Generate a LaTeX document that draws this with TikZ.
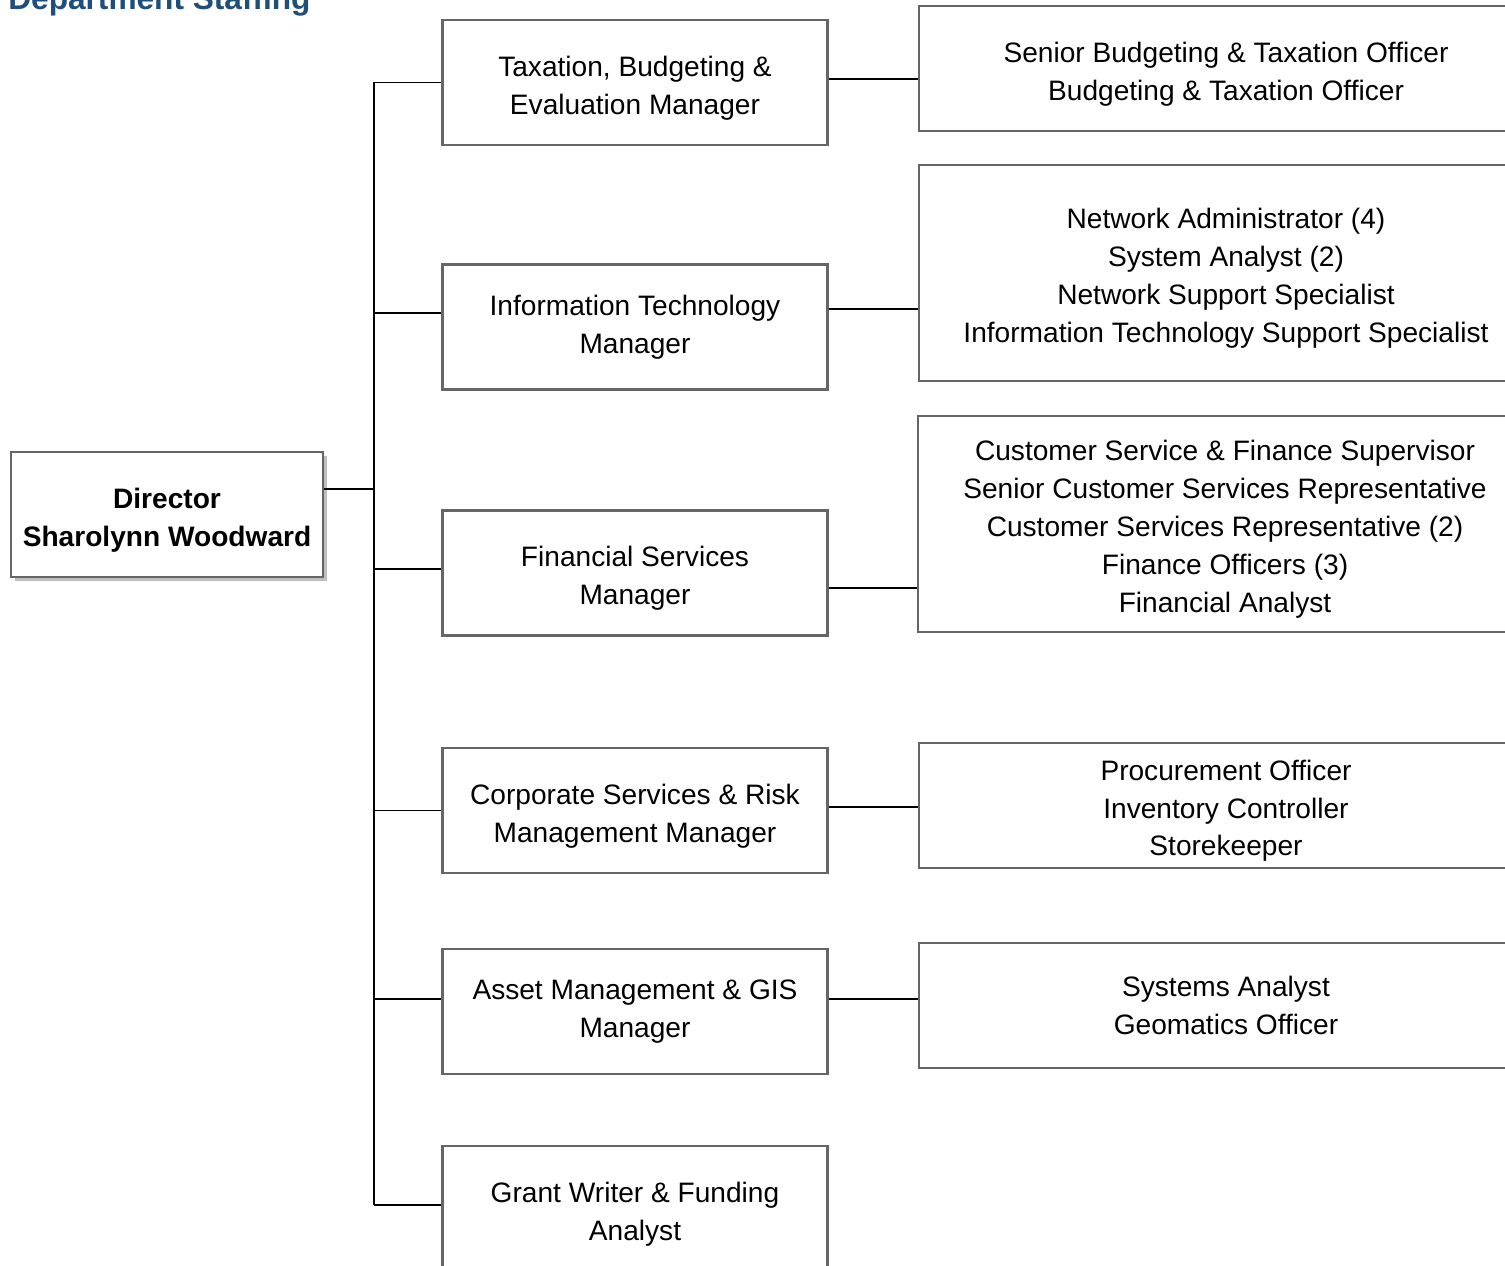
\documentclass[tikz,border=0pt]{standalone}
\usepackage{fontspec}
\setmainfont{Liberation Sans}
\usetikzlibrary{shadows}
\definecolor{titleblue}{HTML}{1F4E79}
\newcommand{\toppad}{\rule{0pt}{17.6pt}}
\begin{document}
\begin{tikzpicture}[
    x=0.02cm, y=-0.02cm,
    box/.style={rectangle, draw=black!60, line width=1.2pt, align=center, fill=white, minimum height=2.5cm},
    mgr/.style={box, minimum width=7.7cm, font=\fontsize{16}{21.6}\selectfont},
    staff/.style={box, minimum width=12.28cm, font=\fontsize{16}{21.6}\selectfont},
    boss/.style={box, minimum width=6.24cm, font=\bfseries\fontsize{16}{21.6}\selectfont, drop shadow={shadow xshift=0.08cm, shadow yshift=-0.08cm, opacity=0.5}},
    link/.style={-, line width=0.8pt, black}
]
\useasboundingbox (0,0) rectangle (1505,1266);

\node[anchor=base west, inner sep=0pt, text=titleblue, font=\bfseries\fontsize{18}{20}\selectfont] (title) at (8,10) {Department Staffing};

\node[boss] (dir) at (167,514.5) {\toppad Director\\Sharolynn Woodward};

\node[mgr] (tax) at (635,82.5) {\toppad Taxation, Budgeting \&\\ Evaluation Manager};
\node[mgr] (it) at (635,327) {Information Technology\\Manager};
\node[mgr] (fin) at (635,573) {\toppad Financial Services\\Manager};
\node[mgr] (corp) at (635,810.5) {\toppad Corporate Services \& Risk\\Management Manager};
\node[mgr] (asset) at (635,1011.5) {Asset Management \& GIS\\Manager};
\node[mgr] (grant) at (635,1208.5) {\toppad Grant Writer \& Funding\\Analyst};

\node[staff] (taxstaff) at (1226,68.5) {\toppad Senior Budgeting \& Taxation Officer\\Budgeting \& Taxation Officer};
\node[staff, minimum height=4.32cm] (itstaff) at (1226,273) {\toppad Network Administrator (4)\\System Analyst (2)\\Network Support Specialist\\Information Technology Support Specialist};
\node[staff, minimum height=4.32cm] (finstaff) at (1225,524) {\toppad Customer Service \& Finance Supervisor\\Senior Customer Services Representative\\Customer Services Representative (2)\\Finance Officers (3)\\Financial Analyst};
\node[staff] (corpstaff) at (1226,805.5) {\toppad Procurement Officer\\Inventory Controller\\Storekeeper};
\node[staff] (assetstaff) at (1226,1005.5) {Systems Analyst\\Geomatics Officer};

% trunk from the director down to the managers
\coordinate (trunktop) at (374,82);
\coordinate (trunkbot) at (374,1205);
\draw[link] (trunktop) -- (trunkbot);
\draw[link] ([yshift=0.51cm]dir.east) -- ([yshift=0.51cm]dir.east -| trunktop);
\draw[link] (tax.west -| trunktop) -- (tax.west);
\draw[link] ([yshift=0.28cm]it.west -| trunktop) -- ([yshift=0.28cm]it.west);
\draw[link] ([yshift=0.08cm]fin.west -| trunktop) -- ([yshift=0.08cm]fin.west);
\draw[link] (corp.west -| trunktop) -- (corp.west);
\draw[link] ([yshift=0.25cm]asset.west -| trunktop) -- ([yshift=0.25cm]asset.west);
\draw[link] (trunkbot) -- (trunkbot -| grant.west);

% managers to their staff
\draw[link] ([yshift=0.07cm]tax.east) -- ([yshift=0.07cm]tax.east -| taxstaff.west);
\draw[link] ([yshift=0.36cm]it.east) -- ([yshift=0.36cm]it.east -| itstaff.west);
\draw[link] ([yshift=-0.3cm]fin.east) -- ([yshift=-0.3cm]fin.east -| finstaff.west);
\draw[link] ([yshift=0.07cm]corp.east) -- ([yshift=0.07cm]corp.east -| corpstaff.west);
\draw[link] ([yshift=0.25cm]asset.east) -- ([yshift=0.25cm]asset.east -| assetstaff.west);
\end{tikzpicture}
\end{document}
